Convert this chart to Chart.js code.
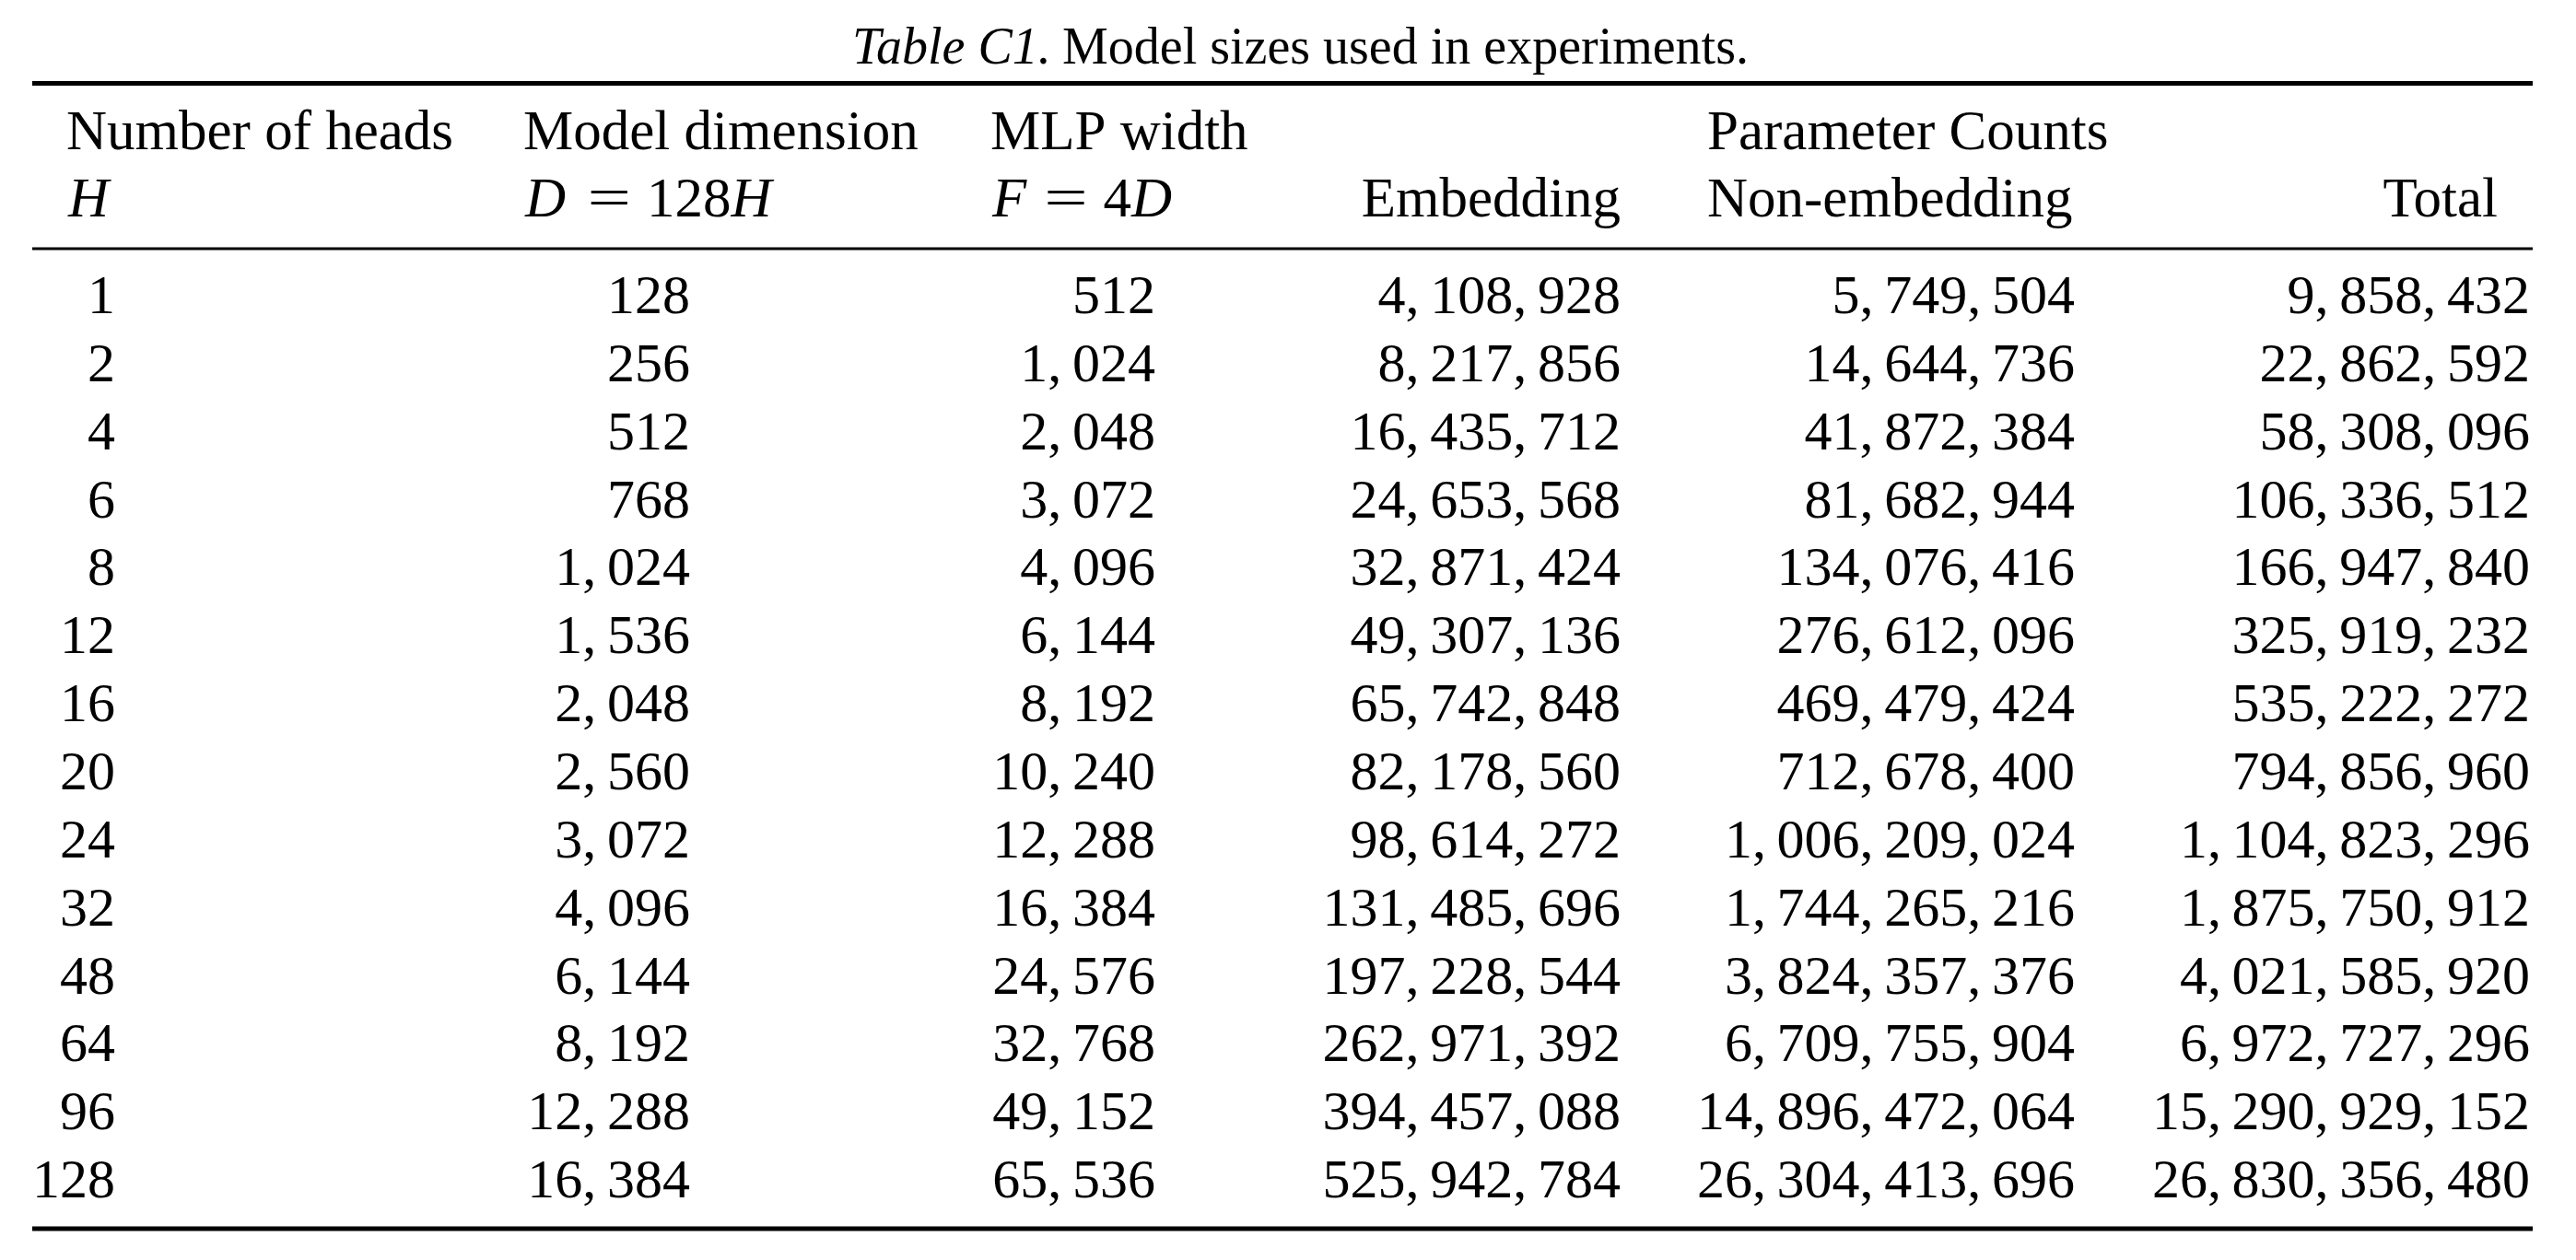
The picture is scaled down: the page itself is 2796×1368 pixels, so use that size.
<!DOCTYPE html>
<html>
<head>
<meta charset="utf-8">
<script src="https://cdn.jsdelivr.net/npm/chart.js@4.4.1/dist/chart.umd.min.js"></script>
<style>
html,body{margin:0;padding:0;background:#ffffff;}
canvas{display:block;}
</style>
</head>
<body>
<canvas id="c" width="2796" height="1368"></canvas>
<script>
// ---------------- data ----------------
const captionLabel = "Table C1.";
const captionText = "Model sizes used in experiments.";

const heads = [1, 2, 4, 6, 8, 12, 16, 20, 24, 32, 48, 64, 96, 128];
const modelDim = [128, 256, 512, 768, 1024, 1536, 2048, 2560, 3072, 4096, 6144, 8192, 12288, 16384];
const mlpWidth = [512, 1024, 2048, 3072, 4096, 6144, 8192, 10240, 12288, 16384, 24576, 32768, 49152, 65536];
const embedding = [4108928, 8217856, 16435712, 24653568, 32871424, 49307136, 65742848, 82178560, 98614272, 131485696, 197228544, 262971392, 394457088, 525942784];
const nonEmbedding = [5749504, 14644736, 41872384, 81682944, 134076416, 276612096, 469479424, 712678400, 1006209024, 1744265216, 3824357376, 6709755904, 14896472064, 26304413696];
const total = [9858432, 22862592, 58308096, 106336512, 166947840, 325919232, 535222272, 794856960, 1104823296, 1875750912, 4021585920, 6972727296, 15290929152, 26830356480];

const headerLine1 = ["Number of heads", "Model dimension", "MLP width", "", "Parameter Counts", ""];
const headerLine2Text = ["", "", "", "Embedding", "Non-embedding", "Total"];
// math headers: H ; D = 128H ; F = 4D
const headerMath = [
  [{t: "H", it: true}],
  [{t: "D", it: true}, {t: "="}, {t: "128"}, {t: "H", it: true}],
  [{t: "F", it: true}, {t: "="}, {t: "4"}, {t: "D", it: true}],
  null, null, null
];

const rowLabels = heads.map(String);
const columns = [heads, modelDim, mlpWidth, embedding, nonEmbedding, total];

// ---------------- layout / style ----------------
const SERIF = "'Liberation Serif', 'Times New Roman', serif";
const W = 2796, H = 1368;
const colRight = [125, 749, 1254, 1759, 2252, 2746];          // right edge of numeric columns (px on x scale)
const headAnchor = [72, 568, 1075, 1759, 1853, 2711];           // header anchors
const headAlign = ["left", "left", "left", "right", "left", "right"];
const mathAnchor = [74, 570, 1077];
const ruleX0 = 35, ruleX1 = 2749;
const rules = [{y: 90.5, w: 5}, {y: 270, w: 3}, {y: 1334, w: 5}];
const headBase1 = 162, headBase2 = 235;
const textSize = 61, numSize = 60, capSize = 56;
const capX = 925, capTextX = 1153, capBase = 69;
const digitHalf = 20;

// CM-like math advance widths (em)
const mathW = {"H": 0.831, "D": 0.828, "F": 0.643, "=": 0.778, "128": 1.5, "4": 0.5};
const relSpace = 0.278;

function fmt(n) {
  const s = String(n);
  const groups = [];
  for (let i = s.length; i > 0; i -= 3) groups.unshift(s.slice(Math.max(0, i - 3), i));
  return groups;
}

function drawNumber(ctx, n, xRight, y) {
  ctx.font = numSize + "px " + SERIF;
  const groups = fmt(n);
  const commaW = ctx.measureText(",").width;
  const gap = (0.445 * numSize) - commaW;
  ctx.textAlign = "left";
  let widths = groups.map(g => ctx.measureText(g).width);
  let totalW = widths.reduce((a, b) => a + b, 0) + (groups.length - 1) * (commaW + gap);
  let x = xRight - totalW;
  groups.forEach((g, k) => {
    ctx.fillText(g, x, y);
    x += widths[k];
    if (k < groups.length - 1) {
      ctx.fillText(",", x, y);
      x += commaW + gap;
    }
  });
}

function drawMath(ctx, parts, x, y) {
  const em = textSize;
  parts.forEach((p) => {
    if (p.t === "=") x += relSpace * em;
    ctx.font = (p.it ? "italic " : "") + textSize + "px " + SERIF;
    ctx.textAlign = "left";
    const target = mathW[p.t] * em;
    if (p.t === "=") {
      const mw = ctx.measureText("=").width;
      ctx.save();
      ctx.translate(x, y);
      ctx.scale(target / mw, 1);
      ctx.fillText("=", 0, 0);
      ctx.restore();
    } else {
      ctx.fillText(p.t, x, y);
    }
    x += target;
    if (p.t === "=") x += relSpace * em;
  });
}

const tablePlugin = {
  id: "tableText",
  afterDatasetsDraw(chart) {
    const ctx = chart.ctx;
    ctx.save();
    ctx.fillStyle = "#000000";
    ctx.strokeStyle = "#000000";
    ctx.textBaseline = "alphabetic";

    // caption
    ctx.font = "italic " + capSize + "px " + SERIF;
    ctx.textAlign = "left";
    ctx.fillText(captionLabel, capX, capBase);
    ctx.font = capSize + "px " + SERIF;
    ctx.fillText(captionText, capTextX, capBase);

    // rules
    rules.forEach(r => {
      ctx.fillRect(ruleX0, r.y - r.w / 2, ruleX1 - ruleX0, r.w);
    });

    // header line 1
    ctx.font = textSize + "px " + SERIF;
    headerLine1.forEach((t, c) => {
      if (!t) return;
      ctx.textAlign = headAlign[c];
      ctx.fillText(t, headAnchor[c], headBase1);
    });
    // header line 2 (text)
    headerLine2Text.forEach((t, c) => {
      if (!t) return;
      ctx.font = textSize + "px " + SERIF;
      ctx.textAlign = headAlign[c];
      ctx.fillText(t, headAnchor[c], headBase2);
    });
    // header line 2 (math)
    headerMath.forEach((parts, c) => {
      if (!parts) return;
      drawMath(ctx, parts, mathAnchor[c], headBase2);
    });

    // cells, positioned through the chart scales
    columns.forEach((vals, c) => {
      const meta = chart.getDatasetMeta(c);
      meta.data.forEach((pt, i) => {
        drawNumber(ctx, vals[i], pt.x, pt.y + digitHalf);
      });
    });
    ctx.restore();
  }
};

const ctx = document.getElementById("c").getContext("2d");
new Chart(ctx, {
  type: "scatter",
  data: {
    datasets: columns.map((vals, c) => ({
      label: "col" + c,
      data: vals.map((v, i) => ({x: colRight[c], y: rowLabels[i]})),
      pointRadius: 0,
      pointHoverRadius: 0,
      showLine: false
    }))
  },
  options: {
    responsive: false,
    animation: false,
    devicePixelRatio: 1,
    layout: {padding: {top: 283, bottom: 51, left: 0, right: 0}},
    scales: {
      x: {type: "linear", min: 0, max: W, display: false},
      y: {type: "category", labels: rowLabels, offset: true, display: false}
    },
    plugins: {legend: {display: false}, tooltip: {enabled: false}, title: {display: false}}
  },
  plugins: [tablePlugin]
});
</script>
</body>
</html>
